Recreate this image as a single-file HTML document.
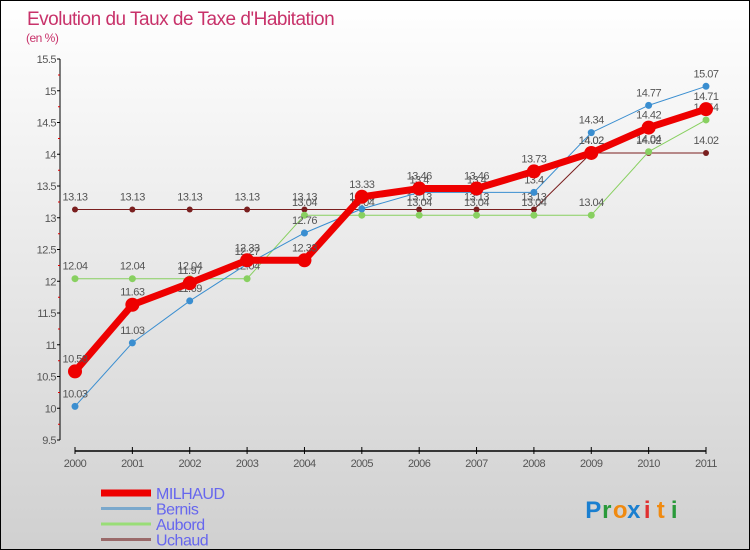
<!DOCTYPE html>
<html><head><meta charset="utf-8"><style>
body{margin:0}
#c{width:748px;height:548px;border:1px solid #000;background:linear-gradient(#fff,#d0d0d0);position:relative;overflow:hidden;font-family:"Liberation Sans",sans-serif}
</style></head><body>
<div id="c">
<svg id="s" width="748" height="548"></svg>
</div>
<script>
const years=["2000","2001","2002","2003","2004","2005","2006","2007","2008","2009","2010","2011"];
const milhaud=[10.58,11.63,11.97,12.33,12.33,13.33,13.46,13.46,13.73,14.02,14.42,14.71];
const bernis=[10.03,11.03,11.69,12.27,12.76,13.14,13.4,13.4,13.4,14.34,14.77,15.07];
const aubord=[12.04,12.04,12.04,12.04,13.04,13.04,13.04,13.04,13.04,13.04,14.04,14.54];
const uchaud=[13.13,13.13,13.13,13.13,13.13,13.13,13.13,13.13,13.13,14.02,14.02,14.02];
const yTicks=[9.5,10,10.5,11,11.5,12,12.5,13,13.5,14,14.5,15,15.5];
const NS="http://www.w3.org/2000/svg",s=document.getElementById('s');
const X=i=>74+i*(705-74)/11, Y=v=>439-(v-9.5)*(439-58)/6;
function el(t,a,p){const e=document.createElementNS(NS,t);for(const k in a)e.setAttribute(k,a[k]);(p||s).appendChild(e);return e;}
function tx(x,y,str,o){const e=el('text',Object.assign({x:x,y:y,'font-size':11,fill:'#555','text-anchor':'middle','letter-spacing':'-0.5'},o||{}));e.textContent=str;return e;}
let t=tx(26,24,"Evolution du Taux de Taxe d'Habitation",{'font-size':19,fill:'#c8326a','text-anchor':'start'});

t=tx(25,41,"(en %)",{'font-size':12,fill:'#c8326a','text-anchor':'start'});

let a=el('line',{x1:59,y1:Y(15.5),x2:59,y2:Y(9.5),stroke:'#000'});

yTicks.forEach(v=>{el('line',{x1:56,x2:59,y1:Y(v),y2:Y(v),stroke:'#000'});
 if(v>9.5) el('line',{x1:57,x2:59,y1:Y(v)+16,y2:Y(v)+16,stroke:'#d00'});
 const l=tx(55,Y(v)+4,String(v),{'text-anchor':'end'});});
a=el('line',{x1:74,y1:450,x2:705,y2:450,stroke:'#000','stroke-width':1.5});

years.forEach((y,i)=>{el('line',{x1:X(i),x2:X(i),y1:446,y2:453,stroke:'#000'});
 const l=tx(X(i),466,y);});
function series(d,c,w,r,name){
 const g=el('g',{});
 el('polyline',{points:d.map((v,i)=>X(i)+','+Y(v)).join(' '),fill:'none',stroke:c,'stroke-width':w,'stroke-linejoin':'round'},g);
 d.forEach((v,i)=>{const p=el('circle',{cx:X(i),cy:Y(v),r:r,fill:c},g);
  tx(X(i),Y(v)-9,String(v),{});});
}
series(uchaud,'#7a1f1f',1,3,'uchaud');
series(aubord,'#88d060',1,3.5,'aubord');
series(bernis,'#3a8ed0',1,3.5,'bernis');
series(milhaud,'#ee0000',7,7,'milhaud');
const leg=[['MILHAUD','#ee0000',7],['Bernis','#7aa8cc',3],['Aubord','#99dd77',3],['Uchaud','#9a6a6a',3]];
leg.forEach((l,i)=>{const g=el('g',{});
 const y=492+i*15.5;el('line',{x1:100,x2:150,y1:y,y2:y,stroke:l[1],'stroke-width':l[2]},g);
 const e=tx(155,y+6,l[0],{'text-anchor':'start','font-size':16,fill:'#6666ee'});g.appendChild(e);});
const lg=el('g',{});
[['P','#1a7fd0'],['r','#2a9a3a'],['o','#f08a10'],['x','#1a7fd0'],['i','#e03030'],['t','#f08a10'],['i','#2a9a3a']].forEach((c,i)=>{
 const e=tx(592+i*13.5,517,c[0],{'font-size':24,fill:c[1],'font-weight':'bold'});lg.appendChild(e);});
</script>
</body></html>
